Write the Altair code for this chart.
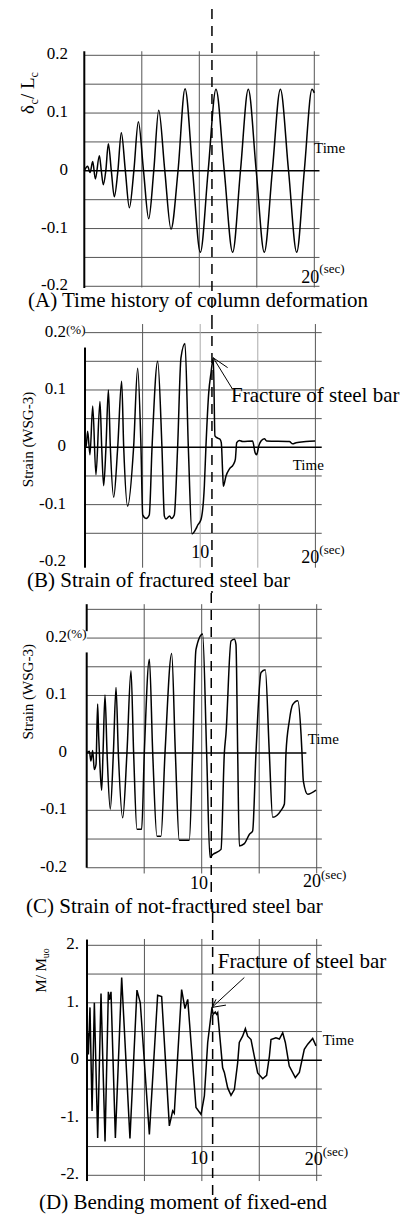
import altair as alt
import pandas as pd

FONT = "Liberation Serif"
GRID = "#555555"
GRID_LIGHT = "#aaaaaa"
W = 240

# ---------------- data ----------------
# (A) column deformation  delta_c / L_c
a_t = [0.00, 0.29, 0.50, 0.73, 0.96, 1.31, 1.48, 1.65, 1.87, 2.09, 2.35, 2.61, 2.92, 3.22, 3.57,
       3.92, 4.31, 4.70, 5.15, 5.60, 6.04, 6.47, 7.00, 7.54, 8.15, 8.76, 9.42, 10.09, 10.77, 11.45,
       12.17, 12.90, 13.58, 14.26, 14.95, 15.65, 16.35, 17.05, 17.76, 18.47, 19.13, 19.80, 20.00]
a_v = [0.000, 0.008, -0.003, 0.016, -0.014, 0.026, 0.000, -0.024, 0.000, 0.047, 0.000, -0.045, 0.000, 0.066, 0.000,
       -0.064, 0.000, 0.085, 0.000, -0.083, 0.000, 0.105, 0.000, -0.101, 0.000, 0.142, 0.000, -0.141, 0.000, 0.141,
       0.000, -0.141, 0.000, 0.141, 0.000, -0.141, 0.000, 0.141, 0.000, -0.141, 0.000, 0.141, 0.135]

# (B) strain of fractured bar (%)
b_t = [0.00, 0.09, 0.23, 0.43, 0.67, 0.95, 1.30, 1.45, 1.62, 1.82, 2.03, 2.20, 2.49, 2.84, 3.18,
       3.36, 3.70, 4.22, 4.57, 4.86, 5.01, 5.30, 5.58, 5.82, 6.31, 6.68, 6.89, 7.03, 7.35, 7.50,
       7.75, 8.04, 8.33, 8.68, 8.97, 9.29, 9.64, 9.78, 10.07, 10.36, 10.50, 10.74, 10.94, 11.14, 11.28,
       11.52, 11.72, 11.83, 11.95, 12.01, 12.24, 12.53, 12.88, 13.05, 13.17, 13.40, 13.69, 14.55, 14.76,
       14.90, 15.08, 15.28, 15.57, 15.77, 17.74, 18.03, 18.32, 19.18, 19.97]
b_v = [0.000, 0.000, 0.028, -0.013, 0.072, -0.048, 0.080, 0.000, -0.067, 0.000, 0.100, 0.000, -0.087, 0.000, 0.115,
       0.000, -0.103, 0.000, 0.138, 0.000, -0.118, -0.124, -0.118, 0.000, 0.150, 0.000, -0.120, -0.125, -0.120, -0.124,
       -0.118, 0.000, 0.156, 0.181, 0.000, -0.151, -0.142, -0.136, -0.126, -0.068, 0.002, 0.095, 0.130, 0.156, 0.020,
       0.016, 0.014, 0.008, -0.044, -0.068, -0.050, -0.038, -0.030, -0.021, 0.008, 0.012, 0.010, 0.011, -0.009,
       -0.013, 0.002, 0.011, 0.015, 0.011, 0.010, 0.006, 0.008, 0.010, 0.011]

# (C) strain of not-fractured bar (%)
c_t = [0.00, 0.23, 0.37, 0.52, 0.66, 0.81, 0.95, 1.04, 1.16, 1.30, 1.42, 1.59, 1.77, 2.05, 2.32,
       2.55, 2.75, 3.13, 3.50, 3.85, 4.08, 4.37, 4.78, 5.01, 5.45, 5.74, 6.11, 6.46, 6.81, 7.39,
       7.71, 8.05, 8.92, 9.21, 9.50, 10.08, 10.43, 10.72, 10.96, 11.68, 11.97, 12.11, 12.55, 12.84, 12.98,
       13.13, 13.27, 13.71, 14.14, 14.43, 14.72, 15.16, 15.53, 15.88, 16.17, 16.90, 17.19, 17.33, 17.62,
       17.91, 18.35, 18.64, 18.72, 18.84, 19.22, 19.94]
c_v = [0.000, 0.003, -0.014, 0.004, -0.029, -0.020, 0.085, 0.030, -0.026, -0.065, 0.000, 0.101, 0.000, -0.098, 0.000,
       0.114, 0.000, -0.113, 0.000, 0.143, 0.000, -0.133, -0.133, 0.000, 0.163, 0.000, -0.145, -0.145, 0.000, 0.173,
       0.000, -0.152, -0.152, 0.000, 0.180, 0.207, 0.000, -0.182, -0.177, -0.168, 0.000, 0.033, 0.195, 0.198, 0.189,
       0.000, -0.162, -0.158, -0.142, -0.136, 0.000, 0.140, 0.145, 0.000, -0.112, -0.100, -0.089, 0.000, 0.056,
       0.084, 0.091, 0.032, 0.000, -0.049, -0.072, -0.065]

# (D) bending moment M / M_uo
d_t = [0.00, 0.06, 0.12, 0.26, 0.44, 0.64, 0.93, 1.22, 1.57, 1.86, 1.95, 2.09, 2.47, 3.02, 3.74,
       4.35, 4.64, 5.43, 6.15, 6.50, 7.17, 7.46, 7.60, 8.24, 8.53, 8.77, 9.49, 9.93, 10.22, 10.51,
       10.88, 10.98, 11.17, 11.29, 11.38, 11.46, 11.81, 11.96, 12.25, 12.54, 12.83, 13.12, 13.26, 13.55,
       13.79, 13.99, 14.28, 14.57, 14.86, 15.30, 15.64, 15.88, 16.02, 16.45, 16.75, 17.04, 17.27, 17.61,
       18.14, 18.49, 18.92, 19.22, 19.65, 19.94]
d_v = [0.00, 0.48, 0.10, 0.92, -0.88, 1.00, -1.35, 1.16, -1.41, 1.19, 1.05, 1.19, -1.35, 1.44, -1.36,
       1.22, 1.00, -1.29, 1.13, 1.11, -1.14, -0.88, -0.92, 1.23, 0.90, 1.06, -0.82, -0.94, -0.62, 0.31,
       0.92, 0.80, 0.84, 0.80, 0.83, 0.65, -0.13, -0.21, -0.48, -0.61, -0.51, -0.04, 0.31, 0.42,
       0.55, 0.42, 0.36, 0.07, -0.22, -0.32, -0.26, 0.07, 0.36, 0.39, 0.37, 0.48, 0.31, -0.10,
       -0.30, -0.21, 0.19, 0.28, 0.38, 0.25]

grid_t = [5, 10, 15, 20]
a_hgrid = [-0.2, -0.15, -0.1, -0.05, 0.05, 0.1, 0.15, 0.2]
b_hgrid = [-0.15, -0.1, -0.05, 0.05, 0.1, 0.15, 0.2]
c_hgrid = [-0.2, -0.15, -0.1, -0.05, 0.05, 0.1, 0.15, 0.2, 0.25]
d_hgrid = [-2, -1.5, -1, -0.5, 0.5, 1, 1.5, 2]

strain_ticks = [-0.2, -0.1, 0, 0.1, 0.2]
strain_labels = ["-0.2", "-0.1", "0", "0.1", "0.2"]
moment_ticks = [-2, -1, 0, 1, 2]
moment_labels = ["-2.", "-1.", "0", "1.", "2."]

fracture_t = [11.10, 11.02, 10.83, 10.94]

b_arrow_t0 = [11.14, 11.14]
b_arrow_v0 = [0.156, 0.156]
b_arrow_t1 = [12.82, 12.38]
b_arrow_v1 = [0.101, 0.139]
d_arrow_t0 = [10.88, 10.88, 10.88]
d_arrow_v0 = [0.92, 0.92, 0.92]
d_arrow_t1 = [13.70, 12.10, 11.23]
d_arrow_v1 = [1.44, 0.96, 1.06]

ONE = alt.Data(values=[{}])


def txt(s, x, y, size, align="left", angle=0, dx=0, dy=0, baseline="alphabetic"):
    kw = dict(text=s, font=FONT, fontSize=size, align=align, baseline=baseline, color="black")
    if angle:
        kw["angle"] = angle
    if dx:
        kw["dx"] = dx
    if dy:
        kw["dy"] = dy
    return alt.Chart(ONE).mark_text(**kw).encode(x=alt.value(x), y=alt.value(y))


def panel(t, v, interp, xdom, ydom, H, hgrid, hgrid_end, vdark, vlight, vrange,
          axis_lo, axis_hi, zero_end, ticks, labels, tick_x, frac, dash_top, dash_bot,
          arrows, extra):
    xs = alt.Scale(domain=xdom, nice=False, zero=False)
    ys = alt.Scale(domain=ydom, nice=False, zero=False)

    def X(f):
        return alt.X(f, type="quantitative", scale=xs, axis=None)

    def Y(f):
        return alt.Y(f, type="quantitative", scale=ys, axis=None)

    layers = []
    layers.append(
        alt.Chart(pd.DataFrame({"v": hgrid})).mark_rule(color=GRID, strokeWidth=1).encode(
            y=Y("v"), x=alt.XDatum(0, scale=xs, axis=None), x2=alt.X2Datum(hgrid_end)))
    for ts, col in ((vdark, GRID), (vlight, GRID_LIGHT)):
        if ts:
            layers.append(
                alt.Chart(pd.DataFrame({"t": ts})).mark_rule(color=col, strokeWidth=1).encode(
                    x=X("t"), y=alt.YDatum(vrange[0], scale=ys, axis=None), y2=alt.Y2Datum(vrange[1])))
    layers.append(
        alt.Chart(pd.DataFrame({"v0": axis_lo, "v1": axis_hi})).mark_rule(color="black", strokeWidth=2).encode(
            x=alt.XDatum(0, scale=xs, axis=None), y=Y("v0"), y2="v1"))
    layers.append(
        alt.Chart(ONE).mark_rule(color="black", strokeWidth=1.5).encode(
            x=alt.XDatum(0, scale=xs, axis=None), x2=alt.X2Datum(zero_end),
            y=alt.YDatum(0, scale=ys, axis=None)))
    layers.append(
        alt.Chart(pd.DataFrame({"t": t, "v": v})).mark_line(
            color="black", strokeWidth=1.5, interpolate=interp).encode(x=X("t"), y=Y("v")))
    layers.append(
        alt.Chart(pd.DataFrame({"t": [frac]})).mark_rule(
            color="black", strokeWidth=1.5, strokeDash=[10, 7]).encode(
            x=X("t"), y=alt.value(dash_top), y2=alt.value(dash_bot)))
    layers.append(
        alt.Chart(pd.DataFrame({"v": ticks, "lab": labels})).mark_text(
            font=FONT, fontSize=17, align="right", baseline="middle", dy=-1, color="black").encode(
            y=Y("v"), x=alt.value(tick_x), text="lab:N"))
    if arrows is not None:
        layers.append(
            alt.Chart(pd.DataFrame(arrows)).mark_rule(color="black", strokeWidth=1).encode(
                x=X("t0"), y=Y("v0"), x2="t1", y2="v1"))
    layers.extend(extra)
    return alt.layer(*layers).properties(width=W, height=H)


# ---------- panel A ----------
HA = 318
A_extra = [
    alt.Chart(ONE).mark_rule(color="white", strokeWidth=0.5).encode(
        x=alt.value(-83), y=alt.value(0), y2=alt.value(1)),
    txt("Time", 230, 152, 15),
    txt("20", 235.3, 281.5, 18, align="right"),
    txt("(sec)", 235.3, 272, 13),
    txt("(A) Time history of column deformation", -56, 306, 21),
    txt("δ", -50, 113, 19, angle=270),
    txt("c", -50, 113, 12, angle=270, dx=9.5, dy=4),
    txt("/ L", -50, 113, 19, angle=270, dx=15),
    txt("c", -50, 113, 12, angle=270, dx=36.5, dy=4),
]
chartA = panel(a_t, a_v, "monotone", [-0.026, 20.843], [-0.25663, 0.29403], HA,
               a_hgrid, 20.45, grid_t, [], [-0.202, 0.207], [-0.203], [0.207], 20.45,
               strain_ticks, strain_labels, -16, fracture_t[0], 8, HA, None, A_extra)

# ---------- panel B ----------
HB = 274
B_extra = [
    txt("(%)", -18, 15, 13),
    txt("Fracture of steel bar", 147, 83, 21),
    txt("Time", 208.7, 151.3, 15),
    txt("10", 116.2, 238.7, 18, align="center"),
    txt("20", 235.3, 243.7, 18, align="right"),
    txt("(sec)", 235.3, 235.3, 13),
    txt("(B) Strain of fractured steel bar", -57, 267.5, 21),
    txt("Strain (WSG-3)", -51, 120.5, 15, align="center", angle=270),
]
chartB = panel(b_t, b_v, "monotone", [-0.0868, 20.747], [-0.25414, 0.22379], HB,
               b_hgrid, 20.55, [5, 20], [10, 15], [-0.21, 0.215], [-0.21], [0.174], 20.55,
               strain_ticks, strain_labels, -18, fracture_t[1], 0, HB,
               {"t0": b_arrow_t0, "v0": b_arrow_v0, "t1": b_arrow_t1, "v1": b_arrow_v1}, B_extra)

# ---------- panel C ----------
HC = 320
C_extra = [
    txt("(%)", -17, 45, 13),
    txt("Time", 223.7, 150.7, 15),
    txt("10", 115, 296.3, 18, align="center"),
    txt("20", 237, 294, 18, align="right"),
    txt("(sec)", 237, 286.3, 13),
    txt("(C) Strain of not-fractured steel bar", -58, 320, 21),
    txt("Strain (WSG-3)", -51, 98.8, 15, align="center", angle=270),
]
chartC = panel(c_t, c_v, "monotone", [-0.2348, 20.635], [-0.27882, 0.27848], HC,
               c_hgrid, 20.45, grid_t, [], [-0.21, 0.259], [-0.2, 0.212], [0.175, 0.259], 19.1,
               strain_ticks, strain_labels, -17, fracture_t[2], 0, HC, None, C_extra)

# ---------- panel D ----------
HD = 303
D_extra = [
    txt("Fracture of steel bar", 133.7, 55.3, 21),
    txt("Time", 238.7, 132, 15),
    txt("10", 115, 251.3, 18, align="center"),
    txt("20", 238.7, 252.3, 18, align="right"),
    txt("(sec)", 238.7, 243, 13),
    txt("(D) Bending moment of fixed-end", -45, 296.3, 21),
    txt("M/ M", -38, 79.7, 15, angle=270),
    txt("uo", -38, 79.7, 10, angle=270, dx=34.5, dy=3),
]
chartD = panel(d_t, d_v, "linear", [-0.2612, 20.636], [-2.70783, 2.56174], HD,
               d_hgrid, 20.45, grid_t, [], [-2.1, 2.11], [-2.1], [2.1], 20.45,
               moment_ticks, moment_labels, -5, fracture_t[3], 0, 285,
               {"t0": d_arrow_t0, "v0": d_arrow_v0, "t1": d_arrow_t1, "v1": d_arrow_v1}, D_extra)

chart = alt.vconcat(chartA, chartB, chartC, chartD, spacing=0, bounds="flush").properties(
    padding=0).configure_view(strokeWidth=0)

chart.save("out.html", embed_options={"renderer": "svg", "actions": False})
